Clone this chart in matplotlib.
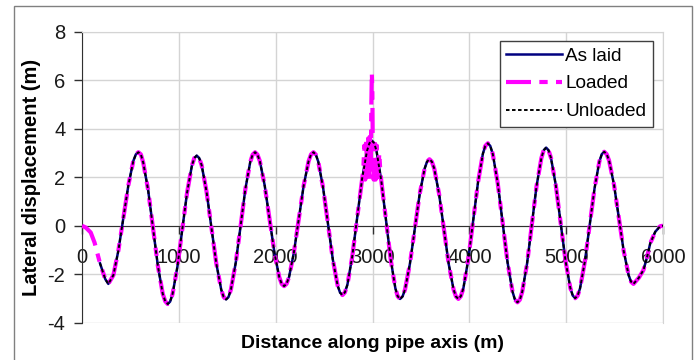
import matplotlib
matplotlib.use("Agg")
import matplotlib.pyplot as plt
from matplotlib.patches import Rectangle

plt.rcParams["font.family"] = ["Liberation Sans", "DejaVu Sans"]
plt.rcParams["axes.unicode_minus"] = False

# distance along the pipe (m) and lateral displacement of the as-laid route (m)
dist_m = [186, 240, 272,
          324, 375, 427, 479, 530, 556, 582,
          608, 632, 683, 733, 784, 834, 860, 885,
          910, 935, 985, 1035, 1085, 1135, 1160, 1185,
          1210, 1236, 1286, 1337, 1387, 1438, 1463, 1488,
          1513, 1538, 1588, 1638, 1687, 1737, 1762, 1787,
          1812, 1837, 1887, 1937, 1987, 2037, 2062, 2087,
          2112, 2138, 2188, 2239, 2289, 2340, 2365, 2390,
          2415, 2440, 2490, 2540, 2590, 2640, 2665, 2690,
          2715, 2741, 2791, 2842, 2892, 2943, 2968, 2993,
          3018, 3042, 3090, 3139, 3188, 3236, 3260, 3285,
          3310, 3336, 3386, 3437, 3487, 3538, 3563, 3588,
          3613, 3638, 3688, 3738, 3787, 3837, 3862, 3887,
          3912, 3938, 3988, 4039, 4090, 4140, 4165, 4191,
          4216, 4242, 4293, 4344, 4395, 4446, 4471, 4497,
          4522, 4546, 4596, 4645, 4694, 4744, 4768, 4793,
          4818, 4843, 4893, 4943, 4993, 5043, 5068, 5093,
          5118, 5143, 5193, 5243, 5293, 5343, 5368, 5393,
          5418, 5443, 5494, 5544, 5594, 5645, 5670, 5695,
          5750, 5798, 5835, 5868, 5920, 5971, 6000]

as_laid = [-1.55, -2.20, -2.40,
           -2.04, -1.04, 0.32, 1.67, 2.67, 2.94, 3.03,
           2.94, 2.61, 1.47, -0.10, -1.67, -2.81, -3.12, -3.23,
           -3.13, -2.82, -1.70, -0.17, 1.36, 2.48, 2.79, 2.89,
           2.79, 2.49, 1.41, -0.08, -1.56, -2.64, -2.94, -3.04,
           -2.94, -2.63, -1.52, -0.01, 1.51, 2.62, 2.93, 3.03,
           2.93, 2.66, 1.65, 0.27, -1.11, -2.12, -2.40, -2.49,
           -2.40, -2.12, -1.11, 0.27, 1.65, 2.66, 2.94, 3.03,
           2.93, 2.64, 1.56, 0.09, -1.39, -2.47, -2.76, -2.86,
           -2.75, -2.43, -1.27, 0.33, 1.92, 3.08, 3.40, 3.51,
           3.40, 3.07, 1.88, 0.25, -1.39, -2.58, -2.91, -3.02,
           -2.92, -2.63, -1.58, -0.14, 1.30, 2.35, 2.64, 2.74,
           2.64, 2.35, 1.30, -0.14, -1.58, -2.63, -2.92, -3.02,
           -2.91, -2.59, -1.42, 0.19, 1.80, 2.97, 3.29, 3.40,
           3.29, 2.96, 1.76, 0.12, -1.52, -2.72, -3.05, -3.16,
           -3.05, -2.73, -1.57, 0.03, 1.63, 2.79, 3.11, 3.22,
           3.11, 2.80, 1.67, 0.12, -1.44, -2.57, -2.88, -2.99,
           -2.89, -2.59, -1.48, 0.03, 1.54, 2.65, 2.95, 3.05,
           2.95, 2.69, 1.69, 0.33, -1.04, -2.04, -2.31, -2.40,
           -2.15, -1.83, -1.30, -0.73, -0.25, -0.02, 0.0]

# after unloading the pipe returns to the as-laid shape
unloaded = list(as_laid)

# loaded case: lead-in from the start point, then buckle zone around 3 km
lead_x = [0, 40, 90, 130]
lead_y = [0.0, -0.08, -0.28, -0.70]
buckle_x = [2905, 2915, 2925, 2935, 2945, 2955, 2965, 2975, 2982, 2988,
            2993, 2998, 3003, 3012, 3022, 3032, 3045, 3058, 3070, 3080]
buckle_y = [2.3, 3.3, 1.9, 3.5, 2.0, 3.6, 1.8, 3.8, 2.2, 5.0,
            6.3, 5.6, 3.2, 1.9, 3.6, 1.9, 3.3, 2.0, 3.0, 2.3]

loaded_x = (lead_x + [x for x in dist_m if x < buckle_x[0]] + buckle_x
            + [x for x in dist_m if x > buckle_x[-1]])
loaded_y = (lead_y + [y for x, y in zip(dist_m, as_laid) if x < buckle_x[0]]
            + buckle_y
            + [y for x, y in zip(dist_m, as_laid) if x > buckle_x[-1]])

x_ticks = [0, 1000, 2000, 3000, 4000, 5000, 6000]
y_ticks = [-4, -2, 0, 2, 4, 6, 8]

W, H = 697, 360
fig = plt.figure(figsize=(W / 100, H / 100), dpi=100)
fig.patches.append(Rectangle((14 / W, -0.05), (692 - 14) / W, 1.05 - 6 / H,
                             transform=fig.transFigure, fill=False,
                             edgecolor="#808080", lw=1.0))

ax = fig.add_axes([82 / W, 1 - 322.7 / H, (663 - 82) / W, (322.7 - 31.7) / H])

ax.plot(dist_m, as_laid, color="#000080", lw=1.8, label="As laid", zorder=3)
ax.plot(loaded_x, loaded_y, color="#FF00FF", lw=3.0, dashes=(6, 2, 2, 2, 2, 2),
        label="Loaded", zorder=4)
ax.plot(dist_m, unloaded, color="black", lw=1.4, dashes=(1.8, 1.3),
        label="Unloaded", zorder=5)

ax.set_xlim(0, 6000)
ax.set_ylim(-4, 8)
ax.set_xticks(x_ticks)
ax.set_yticks(y_ticks)
ax.grid(True, color="#d4d4d4", lw=1.0)
ax.set_axisbelow(True)

for s in ("top", "right"):
    ax.spines[s].set_color("#d4d4d4")
ax.spines["bottom"].set_position(("data", 0))
ax.spines["bottom"].set_color("#303030")
ax.spines["left"].set_color("#303030")
ax.spines["bottom"].set_zorder(2)

ax.tick_params(axis="both", direction="out", length=6, width=1,
               color="#303030", labelsize=14.5, labelcolor="#1a1a1a")
ax.tick_params(axis="x", pad=10)
ax.tick_params(axis="y", pad=6)

ax.set_ylabel("Lateral displacement (m)", fontsize=14.5, fontweight="bold",
              labelpad=5)
fig.text(372.5 / W, 1 - 343 / H, "Distance along pipe axis (m)",
         fontsize=14, fontweight="bold", ha="center", va="center")

leg = ax.legend(loc="upper right", bbox_to_anchor=(1 - 10 / 581, 1 - 9 / 291),
                borderaxespad=0, fontsize=13.7, frameon=True, fancybox=False,
                edgecolor="#404040", framealpha=1, handlelength=2.9,
                labelspacing=0.55, handletextpad=0.2, borderpad=0.35)
leg.get_frame().set_linewidth(1.0)
leg.set_zorder(10)

fig.savefig("out.png", dpi=100)
